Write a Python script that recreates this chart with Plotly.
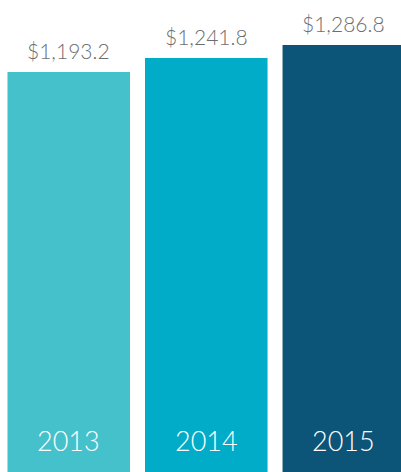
import plotly.graph_objects as go

years = ["2013", "2014", "2015"]
values = [1193.2, 1241.8, 1286.8]
colors = ["#44C1CB", "#00ACC8", "#0D5479"]
value_labels = ["$1,193.2", "$1,241.8", "$1,286.8"]

y_min, y_max = -193.4, 1442.6

fig = go.Figure()
fig.add_trace(go.Bar(
    x=years, y=[v - y_min for v in values], base=y_min,
    marker=dict(color=colors, line=dict(width=0)),
    hoverinfo="skip",
))

for i, (yr, v, lab) in enumerate(zip(years, values, value_labels)):
    fig.add_annotation(x=i, y=v, text=lab, showarrow=False, yanchor="bottom",
                       yshift=7, font=dict(family="Lato", size=21, color="#6D6E71", weight=300))
    fig.add_annotation(x=i, y=y_min, text=yr, showarrow=False, yanchor="bottom",
                       yshift=13, font=dict(family="Lato", size=27, color="#FFFFFF", weight=300))

fig.update_layout(
    width=401, height=472, margin=dict(l=0, r=0, t=0, b=0),
    paper_bgcolor="white", plot_bgcolor="white", bargap=0.109, showlegend=False,
    xaxis=dict(range=[-0.5, 2.416], visible=False, type="category"),
    yaxis=dict(range=[y_min, y_max], visible=False),
)
fig.write_html("out.html", config={"displayModeBar": False},
               post_script="document.body.style.margin='0';")
